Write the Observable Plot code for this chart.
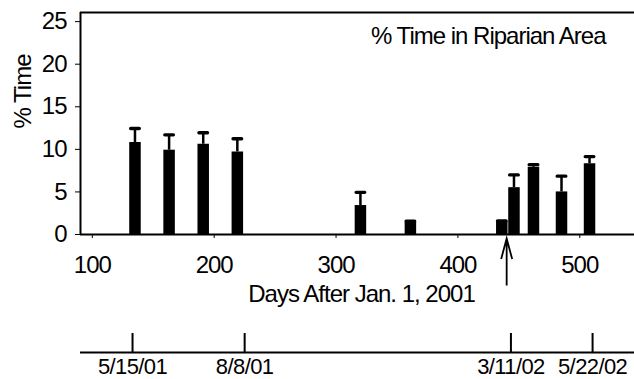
<!DOCTYPE html>
<html><head><meta charset="utf-8">
<script src="https://cdn.jsdelivr.net/npm/d3@7"></script>
<script src="https://cdn.jsdelivr.net/npm/@observablehq/plot@0.6"></script>
<style>
html,body{margin:0;padding:0;background:#fff;}
#chart svg{display:block;}
</style></head><body><div id="chart"></div>
<script>
// Bars: day after Jan 1, 2001, mean % time, error (upper whisker)
const days   = [135, 163, 191, 219, 320, 361, 436, 446, 462, 485, 508];
const values = [10.8, 9.9, 10.6, 9.7, 3.4, 1.4, 1.5, 5.5, 7.9, 5.0, 8.3];
const errors = [1.65, 1.8, 1.35, 1.55, 1.55, 0.15, 0.1, 1.5, 0.3, 1.85, 0.85];

const xTicks = [100, 200, 300, 400, 500];
const yTicks = [0, 5, 10, 15, 20, 25];
const xDomain = [90.3, 544.9];
const yDomain = [0, 26.07];

const title = "% Time in Riparian Area";
const yLabel = "% Time";
const xLabel = "Days After Jan. 1, 2001";

const arrowDay = 440;

// Timeline below
const tlDays = [133, 225, 443.5, 510.5];
const tlLabels = ["5/15/01", "8/8/01", "3/11/02", "5/22/02"];

const FONT = "'Liberation Sans', Arial, Helvetica, sans-serif";
const style = {fontFamily: FONT, fontSize: "24px", letterSpacing: "-1px", color: "black", background: "white", overflow: "visible"};
const style2 = {fontFamily: FONT, fontSize: "22px", letterSpacing: "-0.6px", color: "black", background: "white", overflow: "visible"};

const data = days.map((d, i) => ({day: d, value: values[i], top: values[i] + errors[i]}));

const capSymbol = {
  draw(ctx) {
    const w = 6, h = 1.7;
    ctx.moveTo(-w + h, -h);
    ctx.lineTo(w - h, -h);
    ctx.arc(w - h, 0, h, -Math.PI / 2, Math.PI / 2);
    ctx.lineTo(-w + h, h);
    ctx.arc(-w + h, 0, h, Math.PI / 2, Math.PI * 3 / 2);
    ctx.closePath();
  }
};
const arrowSymbol = {
  draw(ctx) {
    ctx.moveTo(0, 23.5);
    ctx.lineTo(0, -23.5);
    ctx.moveTo(-5.5, -3);
    ctx.lineTo(0, -23.5);
    ctx.lineTo(5.5, -3);
  }
};

const main = Plot.plot({
  width: 634, height: 320,
  marginLeft: 80, marginRight: 0, marginTop: 12, marginBottom: 86,
  style,
  x: {domain: xDomain, ticks: xTicks, tickSize: 4, tickPadding: 17, label: null, tickFormat: d => String(d)},
  y: {domain: yDomain, ticks: yTicks, tickSize: 5, tickPadding: 9, label: null, tickFormat: d => String(d)},
  marks: [
    Plot.ruleX(data, {x: "day", y1: 0, y2: "value", stroke: "black", strokeWidth: 11.5}),
    Plot.ruleX(data, {x: "day", y1: "value", y2: "top", stroke: "black", strokeWidth: 2.5}),
    Plot.dot(data, {x: "day", y: "top", symbol: capSymbol, fill: "black", stroke: "none"}),
    Plot.ruleY([0], {stroke: "black", strokeWidth: 2}),
    Plot.ruleY([yDomain[1]], {stroke: "black", strokeWidth: 2}),
    Plot.ruleX([xDomain[0]], {stroke: "black", strokeWidth: 2}),
    Plot.text([title], {text: d => d, frameAnchor: "top-right", textAnchor: "end", lineAnchor: "top", dx: -29, dy: 14, fill: "black"}),
    Plot.text([yLabel], {text: d => d, frameAnchor: "left", rotate: -90, dx: -57, dy: 5, fill: "black"}),
    Plot.text([xLabel], {text: d => d, frameAnchor: "bottom", dx: 4, dy: 67, fill: "black"}),
    Plot.dot([arrowDay], {x: d => d, frameAnchor: "bottom", dy: 27.5, symbol: arrowSymbol, fill: "none", stroke: "black", strokeWidth: 1.8})
  ]
});

const tl = Plot.plot({
  width: 634, height: 59,
  marginLeft: 80, marginRight: 0, marginTop: 0, marginBottom: 27,
  style: style2,
  x: {domain: xDomain, axis: null},
  y: {domain: [0, 1], axis: null},
  marks: [
    Plot.ruleY([0], {stroke: "black", strokeWidth: 2}),
    Plot.ruleX(tlDays, {x: d => d, insetTop: 13, stroke: "black", strokeWidth: 2}),
    Plot.text(tlDays, {x: d => d, text: (d, i) => tlLabels[i], frameAnchor: "bottom", lineAnchor: "top", dy: 6, fill: "black"})
  ]
});

const el = document.getElementById("chart");
el.appendChild(main);
el.appendChild(tl);
</script>
</body></html>
